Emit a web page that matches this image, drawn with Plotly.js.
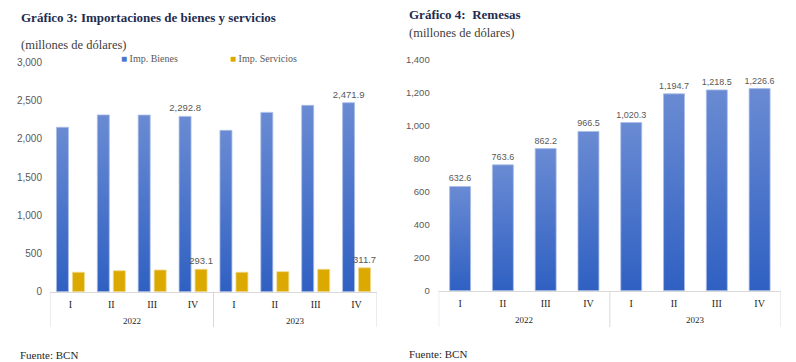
<!DOCTYPE html>
<html>
<head>
<meta charset="utf-8">
<script src="https://cdn.plot.ly/plotly-3.0.1.min.js"></script>
<style>html,body{margin:0;padding:0;background:#fff;}#chart{width:796px;height:362px;}</style>
</head>
<body>
<div id="chart"></div>
<script>
// ---- Data ----
const quarters = ["I", "II", "III", "IV", "I", "II", "III", "IV"];
const years = ["2022", "2023"];
const impBienes = [2150, 2312, 2310, 2292.8, 2110, 2345, 2437, 2471.9];
const impServicios = [254, 274, 284, 293.1, 254, 262, 293, 311.7];
const impBienesLabels = ["", "", "", "2,292.8", "", "", "", "2,471.9"];
const impServiciosLabels = ["", "", "", "293.1", "", "", "", "311.7"];
const remesas = [632.6, 763.6, 862.2, 966.5, 1020.3, 1194.7, 1218.5, 1226.6];
const remesasLabels = ["632.6", "763.6", "862.2", "966.5", "1,020.3", "1,194.7", "1,218.5", "1,226.6"];
const seriesNames = ["Imp. Bienes", "Imp. Servicios"];

// ---- Style ----
const W = 796, H = 362;
const SERIF = "Liberation Serif, DejaVu Serif, serif";
const SANS = "Liberation Sans, Arial, sans-serif";
const BLUE = "#4A76CC";
const GOLD = "#DBA900";
const TXT = "#595959";
const NAVY = "#1F2D50";
const idx = quarters.map((q, i) => i);
const px = v => v / W;
const py = v => (H - v) / H;

const barCommon = {type: "bar", textposition: "outside", cliponaxis: false, constraintext: "none",
                   hoverinfo: "none", showlegend: false};

const traces = [
  Object.assign({}, barCommon, {x: idx, y: impBienes, name: seriesNames[0], xaxis: "x", yaxis: "y",
   marker: {color: BLUE, line: {color: "#A9BDE6", width: 0.8}},
   text: impBienesLabels, textfont: {family: SANS, size: 9.5, color: TXT}}),
  Object.assign({}, barCommon, {x: idx, y: impServicios, name: seriesNames[1], xaxis: "x", yaxis: "y",
   marker: {color: GOLD, line: {color: "#F0D98A", width: 0.8}},
   text: impServiciosLabels, textfont: {family: SANS, size: 9.5, color: TXT}}),
  Object.assign({}, barCommon, {x: idx, y: remesas, name: "Remesas", xaxis: "x2", yaxis: "y2",
   marker: {color: BLUE, line: {color: "#A9BDE6", width: 0.8}},
   text: remesasLabels, textfont: {family: SANS, size: 9, color: TXT}, width: 0.49}),
  // legend entries (square glyph in series colour)
  {type: "scatter", mode: "markers", x: [null], y: [null], xaxis: "x", yaxis: "y",
   name: "<span style='color:" + BLUE + "'>■</span> " + seriesNames[0],
   marker: {color: "rgba(0,0,0,0)", size: 1, line: {width: 0}}, hoverinfo: "none"},
  {type: "scatter", mode: "markers", x: [null], y: [null], xaxis: "x", yaxis: "y",
   name: "<span style='color:" + GOLD + "'>■</span> " + seriesNames[1],
   marker: {color: "rgba(0,0,0,0)", size: 1, line: {width: 0}}, hoverinfo: "none"}
];

const axX = (dom) => ({
  domain: dom, range: [-0.5, 7.5], tickmode: "array", tickvals: idx, ticktext: quarters,
  showline: true, linecolor: "#D9D9D9", linewidth: 1, ticks: "", showgrid: false, zeroline: false,
  tickfont: {family: SERIF, size: 10, color: "#262626"}, fixedrange: true, ticklabelstandoff: 3
});
const axY = (dom, rng, dt, anchor, so, fs) => ({
  domain: dom, range: rng, dtick: dt, tickformat: ",d", showgrid: false, zeroline: false,
  showline: false, ticks: "", tickfont: {family: SANS, size: fs, color: TXT}, anchor: anchor,
  fixedrange: true, ticklabelstandoff: so
});

const layout = {
  width: W, height: H, margin: {l: 0, r: 0, t: 0, b: 0},
  paper_bgcolor: "#fff", plot_bgcolor: "rgba(0,0,0,0)",
  barmode: "group", bargap: 0.218, bargroupgap: 0.25,
  xaxis: Object.assign(axX([px(50), px(377)]), {anchor: "y"}),
  yaxis: axY([1 - 291.7 / H, 1 - 62.3 / H], [0, 3000], 500, "x", 7, 10),
  xaxis2: Object.assign(axX([px(438.7), px(781)]), {anchor: "y2"}),
  yaxis2: axY([1 - 290.7 / H, 1 - 60 / H], [0, 1400], 200, "x2", 8, 9.5),
  showlegend: true,
  legend: {orientation: "h", x: px(81), y: py(58), xanchor: "left", yanchor: "middle",
           font: {family: SERIF, size: 10, color: TXT}, entrywidth: 64, itemwidth: 30,
           bgcolor: "rgba(0,0,0,0)", traceorder: "normal"},
  shapes: [],
  annotations: [
    {text: "<b>Gráfico 3: Importaciones de bienes y servicios</b>", xref: "paper", yref: "paper",
     x: px(19), y: py(18), xanchor: "left", yanchor: "middle", showarrow: false,
     font: {family: SERIF, size: 13, color: NAVY}},
    {text: "(millones de dólares)", xref: "paper", yref: "paper",
     x: px(19), y: py(45), xanchor: "left", yanchor: "middle", showarrow: false,
     font: {family: SERIF, size: 12.5, color: "#404040"}},
    {text: "<b>Gráfico 4:  Remesas</b>", xref: "paper", yref: "paper",
     x: px(407), y: py(15), xanchor: "left", yanchor: "middle", showarrow: false,
     font: {family: SERIF, size: 13, color: NAVY}},
    {text: "(millones de dólares)", xref: "paper", yref: "paper",
     x: px(407), y: py(33), xanchor: "left", yanchor: "middle", showarrow: false,
     font: {family: SERIF, size: 12.5, color: "#404040"}},
    {text: "Fuente: BCN", xref: "paper", yref: "paper",
     x: px(18), y: py(355), xanchor: "left", yanchor: "middle", showarrow: false,
     font: {family: SERIF, size: 11, color: "#262626"}},
    {text: "Fuente: BCN", xref: "paper", yref: "paper",
     x: px(407), y: py(354), xanchor: "left", yanchor: "middle", showarrow: false,
     font: {family: SERIF, size: 11, color: "#262626"}}
  ]
};

// year labels and separators for both charts
[["x", 1 - 327 / H, 321], ["x2", 1 - 327 / H, 320]].forEach(([xr, yb, ylab]) => {
  [-0.5, 3.5, 7.5].forEach(v => layout.shapes.push({
    type: "line", xref: xr, yref: "paper", x0: v, x1: v, y0: yb,
    y1: xr === "x" ? 1 - 291.7 / H : 1 - 290.7 / H,
    line: {color: "#D9D9D9", width: 1}
  }));
  years.forEach((yr, k) => layout.annotations.push({
    text: yr, xref: xr, yref: "paper", x: 1.5 + 4 * k, y: py(ylab), xanchor: "center", yanchor: "middle",
    showarrow: false, font: {family: SERIF, size: 9, color: "#262626"}
  }));
});

Plotly.newPlot("chart", traces, layout, {staticPlot: true, displayModeBar: false}).then(gd => {
  // vertical gradient on blue bars, like the reference
  const svg = gd.querySelector(".main-svg");
  const ns = "http://www.w3.org/2000/svg";
  let defs = svg.querySelector("defs");
  if (!defs) { defs = document.createElementNS(ns, "defs"); svg.insertBefore(defs, svg.firstChild); }
  const grad = document.createElementNS(ns, "linearGradient");
  grad.setAttribute("id", "blueGrad");
  grad.setAttribute("x1", "0"); grad.setAttribute("y1", "0");
  grad.setAttribute("x2", "0"); grad.setAttribute("y2", "1");
  [["0", "#6A8BD3"], ["1", "#2F60C2"]].forEach(([o, c]) => {
    const s = document.createElementNS(ns, "stop");
    s.setAttribute("offset", o); s.setAttribute("stop-color", c); grad.appendChild(s);
  });
  defs.appendChild(grad);
  const traceGroups = gd.querySelectorAll(".barlayer .trace");
  traceGroups.forEach((g, i) => {
    if (i === 1) return;
    g.querySelectorAll(".point path").forEach(p => { p.style.fill = "url(#blueGrad)"; });
  });
});
</script>
</body>
</html>
